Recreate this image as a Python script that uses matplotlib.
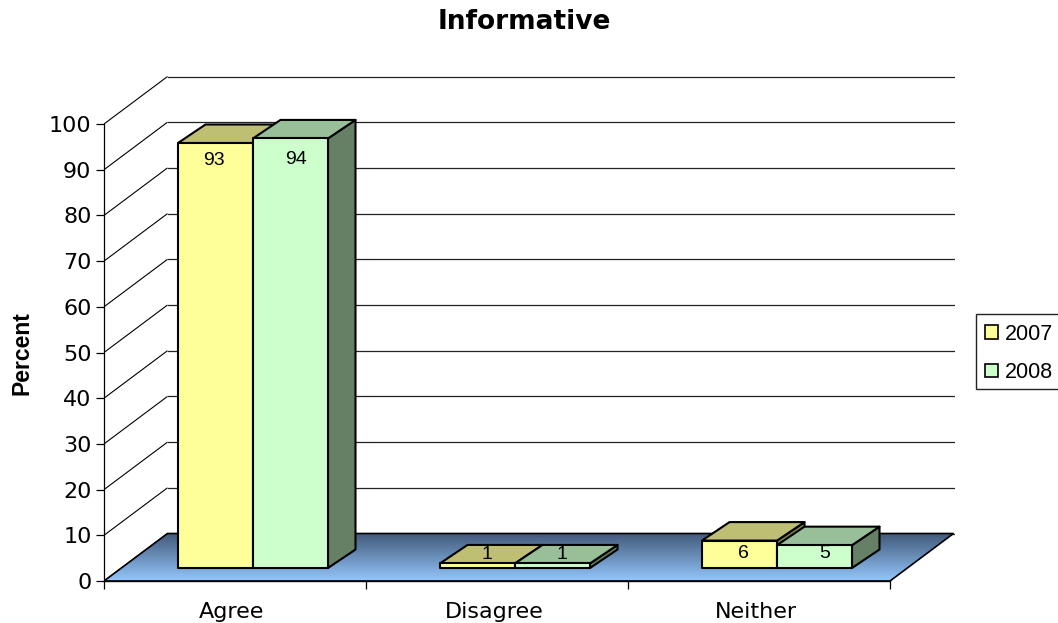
import numpy as np
import matplotlib
matplotlib.use("Agg")
import matplotlib.pyplot as plt
from matplotlib.colors import LinearSegmentedColormap
from matplotlib.patches import Polygon, Patch, Rectangle

title = "Informative"
ylabel = "Percent"
categories = ["Agree", "Disagree", "Neither"]
series_names = ["2007", "2008"]
values_2007 = [93, 1, 6]
values_2008 = [94, 1, 5]
y_ticks = [0, 10, 20, 30, 40, 50, 60, 70, 80, 90, 100]

W, H = 1058, 623
X0, X3, Y0, Y100 = 104, 890, 581, 124
px_x = (X3 - X0) / len(categories)      # px per category
px_y = (Y0 - Y100) / 100                # px per percent
DX, DY = 63.5 / px_x, 47.5 / px_y       # floor depth
FX, FY = 18 / px_x, 13 / px_y           # front of the bars, from the axis plane
BX, BY = 27.5 / px_x, 18.5 / px_y       # depth of a bar
BW = 75 / px_x

fig = plt.figure(figsize=(W / 100, H / 100), dpi=100, facecolor="white")
ax = fig.add_axes([X0 / W, (H - Y0) / H, (X3 + 65 - X0) / W, (Y0 - Y100 + 49) / H])
n = len(categories)
ax.set_xlim(0, n + 65 / px_x)
ax.set_ylim(0, 100 + 49 / px_y)
ax.patch.set_visible(False)

# walls: lines on the back wall and the left side wall
for t in y_ticks:
    ax.plot([0, DX], [t, t + DY], color="black", lw=0.8, zorder=1, solid_capstyle="butt")
    ax.plot([DX, n + DX], [t + DY, t + DY], color="#222222", lw=0.9, zorder=1)

# floor with its vertical gradient
floor = Polygon([(0, 0), (n, 0), (n + DX, DY), (DX, DY)], closed=True,
                facecolor="none", edgecolor="black", lw=1.2, zorder=3)
cmap = LinearSegmentedColormap.from_list("floor", ["#42597a", "#93c6fb"])
im = ax.imshow(np.linspace(0, 1, 128)[:, None], cmap=cmap, aspect="auto",
               extent=(0, n + DX, 0, DY), origin="upper", zorder=2)
ax.add_patch(floor)
im.set_clip_path(floor)
ax.set_xlim(0, n + 65 / px_x)
ax.set_ylim(0, 100 + 49 / px_y)


def draw_bar(x, v, front, top, side):
    x0, y0 = x + FX, FY
    x1, y1 = x0 + BW, y0 + v
    kw = dict(closed=True, edgecolor="black", lw=1.5, joinstyle="round", zorder=4)
    ax.add_patch(Polygon([(x1, y0), (x1 + BX, y0 + BY), (x1 + BX, y1 + BY), (x1, y1)],
                         facecolor=side, **kw))
    ax.add_patch(Polygon([(x0, y1), (x1, y1), (x1 + BX, y1 + BY), (x0 + BX, y1 + BY)],
                         facecolor=top, **kw))
    ax.add_patch(Polygon([(x0, y0), (x1, y0), (x1, y1), (x0, y1)],
                         facecolor=front, **kw))


styles = [("#FFFF99", "#BFBF73", "#80804D"), ("#CCFFCC", "#99BF99", "#668066")]
label_font = ["Liberation Sans", "DejaVu Sans"]
# pixel shift of each value label from the top centre of the bar's front face
label_shift = [[(-2, -18), (9, 9), (4, -13)], [(5, -21), (9, 9), (10, -8)]]

for s, vals in enumerate([values_2007, values_2008]):
    for i, v in enumerate(vals):
        x = i + 0.5 - BW + s * BW
        draw_bar(x, v, *styles[s])
        ax.annotate(str(v), (x + FX + BW / 2, FY + v), xytext=label_shift[s][i],
                    textcoords="offset pixels", ha="center", va="center",
                    fontsize=14, family=label_font, color="black", zorder=5,
                    annotation_clip=False)

# axes
for name in ("top", "right"):
    ax.spines[name].set_visible(False)
ax.spines["left"].set_bounds(0, 100)
ax.spines["bottom"].set_bounds(0, n)
ax.spines["left"].set_linewidth(0.9)
ax.spines["bottom"].set_linewidth(1.0)
ax.spines["left"].set_zorder(6)
ax.spines["bottom"].set_zorder(6)
ax.set_yticks(y_ticks)
ax.set_xticks(range(n + 1))
ax.set_xticklabels([])
ax.set_xticks(np.arange(n) + 0.5 - 3 / px_x, minor=True)
ax.set_xticklabels(categories, minor=True)
ax.tick_params(axis="y", length=6, width=0.9, pad=3, labelsize=16, labelfontfamily="DejaVu Sans")
ax.tick_params(axis="x", which="major", length=6, width=0.9)
ax.tick_params(axis="x", which="minor", length=0, pad=15, labelsize=16)

fig.text(524 / W, 1 - 22 / H, title, ha="center", va="center", fontsize=19,
         fontweight="bold", family="DejaVu Sans")
fig.text(22 / W, 1 - 353.5 / H, ylabel, rotation=90, ha="center", va="center",
         fontsize=16.5, fontweight="bold", family="Liberation Sans")

# legend frame runs off the right edge of the figure
fig.add_artist(Rectangle((976 / W, 1 - 389 / H), 90 / W, 75 / H, transform=fig.transFigure,
                         facecolor="white", edgecolor="#222222", lw=1.0, zorder=2))
handles = [Patch(facecolor=styles[k][0], edgecolor="black", lw=1.2, label=series_names[k])
           for k in range(2)]
leg = fig.legend(handles=handles, loc="center left", bbox_to_anchor=(985 / W, 1 - 353.5 / H),
                 frameon=False, prop={"family": "Liberation Sans", "size": 15.5},
                 handlelength=0.6, handleheight=0.6, handletextpad=0.33,
                 labelspacing=0.81, borderpad=0, borderaxespad=0)
leg.set_zorder(3)

fig.savefig("out.png", dpi=100)
